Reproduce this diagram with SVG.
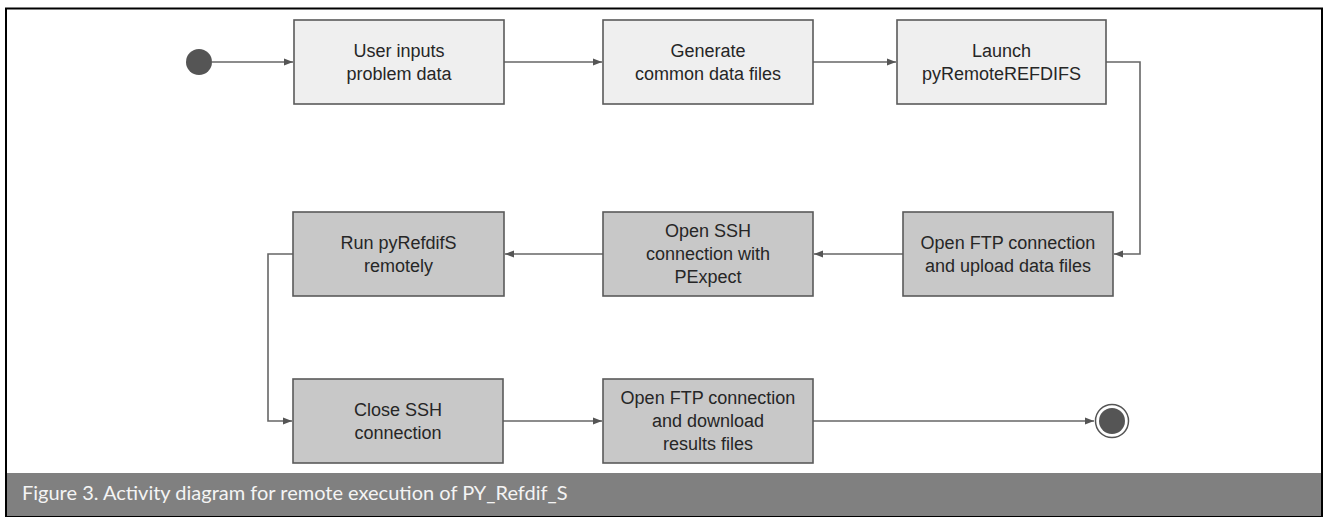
<svg xmlns="http://www.w3.org/2000/svg" width="1325" height="517" viewBox="0 0 1325 517">
<style>
.box{stroke:#5a5a5a;stroke-width:1.6}
.light{fill:#efefef}
.dark{fill:#c8c8c8}
.lbl{font-family:"Liberation Sans",Arial,sans-serif;font-size:18px;fill:#262626;text-anchor:middle}
.conn{fill:none;stroke:#666;stroke-width:1.6}
.cap{font-family:Lato,"Open Sans",sans-serif;font-size:20px;fill:#f4f4f4}
</style>
<defs>
<marker id="ah" markerWidth="10" markerHeight="8" refX="9" refY="4" orient="auto" markerUnits="userSpaceOnUse">
<path d="M0,0.5 L9,4 L0,7.5 Z" fill="#555"/>
</marker>
</defs>
<rect x="0" y="0" width="1325" height="517" fill="#fff"/>
<rect x="6" y="8.5" width="1316" height="508" fill="none" stroke="#000" stroke-width="2"/>
<rect x="7" y="473" width="1314" height="42" fill="#808080"/>
<text class="cap" x="22" y="500">Figure 3. Activity diagram for remote execution of PY_Refdif_S</text>

<g id="connectors">
<path class="conn" d="M212,62 H293" marker-end="url(#ah)"/>
<path class="conn" d="M504,62 H602" marker-end="url(#ah)"/>
<path class="conn" d="M813,62 H896" marker-end="url(#ah)"/>
<path class="conn" d="M1106,62 H1140 V254 H1114" marker-end="url(#ah)"/>
<path class="conn" d="M903,254 H814" marker-end="url(#ah)"/>
<path class="conn" d="M603,254 H505" marker-end="url(#ah)"/>
<path class="conn" d="M293,254 H268 V421 H292" marker-end="url(#ah)"/>
<path class="conn" d="M503,421 H602" marker-end="url(#ah)"/>
<path class="conn" d="M813,421 H1094" marker-end="url(#ah)"/>
</g>

<g id="start"><circle cx="199" cy="62" r="13" fill="#555"/></g>

<g id="n1"><rect class="box light" x="294" y="20" width="210" height="84"/>
<text class="lbl" x="399" y="57">User inputs</text><text class="lbl" x="399" y="80">problem data</text></g>
<g id="n2"><rect class="box light" x="603" y="20" width="210" height="84"/>
<text class="lbl" x="708" y="57">Generate</text><text class="lbl" x="708" y="80">common data files</text></g>
<g id="n3"><rect class="box light" x="897" y="20" width="209" height="84"/>
<text class="lbl" x="1001.5" y="57">Launch</text><text class="lbl" x="1001.5" y="80">pyRemoteREFDIFS</text></g>

<g id="n4"><rect class="box dark" x="903" y="212" width="210" height="84"/>
<text class="lbl" x="1008" y="249">Open FTP connection</text><text class="lbl" x="1008" y="272">and upload data files</text></g>
<g id="n5"><rect class="box dark" x="603" y="212" width="210" height="84"/>
<text class="lbl" x="708" y="237">Open SSH</text><text class="lbl" x="708" y="260">connection with</text><text class="lbl" x="708" y="283">PExpect</text></g>
<g id="n6"><rect class="box dark" x="293" y="212" width="211" height="84"/>
<text class="lbl" x="398.5" y="249">Run pyRefdifS</text><text class="lbl" x="398.5" y="272">remotely</text></g>

<g id="n7"><rect class="box dark" x="293" y="379" width="210" height="84"/>
<text class="lbl" x="398" y="416">Close SSH</text><text class="lbl" x="398" y="439">connection</text></g>
<g id="n8"><rect class="box dark" x="603" y="379" width="210" height="84"/>
<text class="lbl" x="708" y="404">Open FTP connection</text><text class="lbl" x="708" y="427">and download</text><text class="lbl" x="708" y="450">results files</text></g>

<g id="end"><circle cx="1112" cy="421" r="16.5" fill="#fff" stroke="#555" stroke-width="1.5"/><circle cx="1112" cy="421" r="13" fill="#555"/></g>
</svg>
